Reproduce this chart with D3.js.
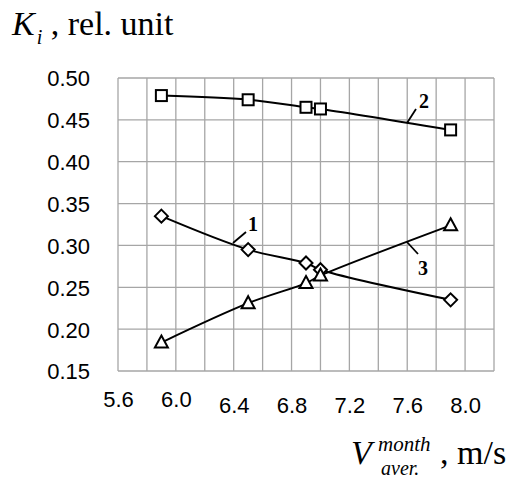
<!DOCTYPE html>
<html><head><meta charset="utf-8">
<script src="https://cdn.jsdelivr.net/npm/d3@7/dist/d3.min.js"></script>
<style>
html,body{margin:0;padding:0;background:#fff;}
svg{display:block;}
</style></head>
<body>
<svg id="chart" width="507" height="481"></svg>
<script>
// ---- data ----
const xTickLabels = [5.6, 6.0, 6.4, 6.8, 7.2, 7.6, 8.0];
const yTickLabels = [0.15, 0.20, 0.25, 0.30, 0.35, 0.40, 0.45, 0.50];
const xGrid = [5.6, 5.8, 6.0, 6.2, 6.4, 6.6, 6.8, 7.0, 7.2, 7.4, 7.6, 7.8, 8.0, 8.2];
const speeds = [5.9, 6.5, 6.9, 7.0, 7.9];
const series1 = [0.335, 0.295, 0.279, 0.271, 0.235]; // diamonds
const series2 = [0.479, 0.474, 0.465, 0.463, 0.438]; // squares
const series3 = [0.184, 0.231, 0.255, 0.264, 0.324]; // triangles

const svg = d3.select("#chart");
const L = 118, R = 494, T = 78, B = 371;
const x = d3.scaleLinear().domain([5.6, 8.2]).range([L, R]);
const y = d3.scaleLinear().domain([0.15, 0.50]).range([B, T]);

// grid
const g = svg.append("g");
g.selectAll("line.vx").data(xGrid).join("line")
  .attr("x1", d => x(d)).attr("x2", d => x(d)).attr("y1", T).attr("y2", B)
  .attr("stroke", "#a6a6a6").attr("stroke-width", 1.3);
g.selectAll("line.hy").data(yTickLabels).join("line")
  .attr("y1", d => y(d)).attr("y2", d => y(d)).attr("x1", L).attr("x2", R)
  .attr("stroke", "#a6a6a6").attr("stroke-width", 1.3);

// axes labels via d3 axes
const yAxis = d3.axisLeft(y).tickValues(yTickLabels).tickFormat(d3.format(".2f")).tickSize(0).tickPadding(28);
svg.append("g").attr("transform", `translate(${L},0)`).call(yAxis)
  .call(s => s.select(".domain").remove())
  .selectAll("text").attr("font-family", "Liberation Sans, Arial, sans-serif")
  .attr("font-size", 22).attr("fill", "#000").attr("dy", "0.36em");

const xAxis = d3.axisBottom(x).tickValues(xTickLabels).tickFormat(d3.format(".1f")).tickSize(0).tickPadding(26);
svg.append("g").attr("transform", `translate(0,${B})`).call(xAxis)
  .call(s => s.select(".domain").remove())
  .selectAll("text").attr("font-family", "Liberation Sans, Arial, sans-serif")
  .attr("font-size", 22).attr("fill", "#000")
  .attr("dy", d => d < 6.2 ? "0.45em" : "0.71em");

// lines
const line = d3.line().x(d => x(d[0])).y(d => y(d[1])).curve(d3.curveCatmullRom.alpha(0.5));
const allSeries = [series1, series2, series3];
allSeries.forEach(s => {
  svg.append("path").datum(speeds.map((v, i) => [v, s[i]]))
    .attr("d", line).attr("fill", "none").attr("stroke", "#000").attr("stroke-width", 2);
});

// markers
const mk = svg.append("g").attr("fill", "#fff").attr("stroke", "#000").attr("stroke-width", 2);
mk.selectAll("rect").data(series2).join("rect")
  .attr("x", (d, i) => x(speeds[i]) - 5.5).attr("y", d => y(d) - 5.5)
  .attr("width", 11).attr("height", 11);
const diamond = "M0,-6.5L6.5,0L0,6.5L-6.5,0Z";
mk.selectAll("path.dia").data(series1).join("path").attr("class", "dia")
  .attr("d", diamond).attr("transform", (d, i) => `translate(${x(speeds[i])},${y(d)})`);
const tri = "M0,-7L6.5,5L-6.5,5Z";
mk.selectAll("path.tri").data(series3).join("path").attr("class", "tri")
  .attr("d", tri).attr("transform", (d, i) => `translate(${x(speeds[i])},${y(d)})`);

// curve labels with leaders
const labels = [
  {t: "1", lx1: 233, ly1: 243, lx2: 246, ly2: 232, tx: 253, ty: 231},
  {t: "2", lx1: 407, ly1: 123, lx2: 416, ly2: 109, tx: 424, ty: 108},
  {t: "3", lx1: 407, ly1: 242, lx2: 418, ly2: 254, tx: 423, ty: 275}
];
labels.forEach(l => {
  svg.append("line").attr("x1", l.lx1).attr("y1", l.ly1).attr("x2", l.lx2).attr("y2", l.ly2)
    .attr("stroke", "#000").attr("stroke-width", 1.8);
  svg.append("text").attr("x", l.tx).attr("y", l.ty).attr("text-anchor", "middle")
    .attr("font-family", "Liberation Serif, Times New Roman, serif").attr("font-weight", "bold")
    .attr("font-size", 20).text(l.t);
});

const serif = "Liberation Serif, Times New Roman, serif";
// y title
const yt = svg.append("text").attr("x", 12).attr("y", 35)
  .attr("font-family", serif).attr("font-size", 34);
yt.append("tspan").attr("font-style", "italic").text("K");
yt.append("tspan").attr("font-style", "italic").attr("font-size", 20).attr("dx", 2).attr("dy", 9).text("i");
yt.append("tspan").attr("dy", -9).text(" , rel. unit");

// x title
svg.append("text").attr("x", 351).attr("y", 464)
  .attr("font-family", serif).attr("font-size", 34).attr("font-style", "italic").text("V");
svg.append("text").attr("x", 378).attr("y", 451)
  .attr("font-family", serif).attr("font-size", 21).attr("font-style", "italic").text("month");
svg.append("text").attr("x", 381).attr("y", 475)
  .attr("font-family", serif).attr("font-size", 20).attr("font-style", "italic").text("aver.");
svg.append("text").attr("x", 440).attr("y", 464)
  .attr("font-family", serif).attr("font-size", 34).text(", m/s");
</script>
</body></html>
